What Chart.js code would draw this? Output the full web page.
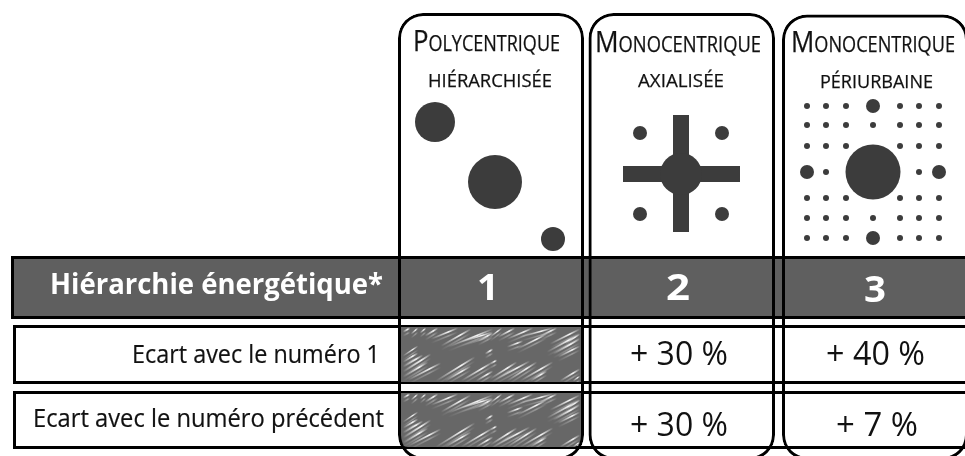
<!DOCTYPE html>
<html lang="fr">
<head>
<meta charset="utf-8">
<title>Hiérarchie énergétique</title>
<script src="https://cdn.jsdelivr.net/npm/chart.js@4"></script>
<style>
    html, body { margin: 0; padding: 0; background: #fff; }
    canvas { display: block; }
</style>
</head>
<body>
<canvas id="chart" width="965" height="456"></canvas>
<script>
// Table content
var columnTitles = ['Polycentrique', 'Monocentrique', 'Monocentrique'];
var columnSubtitles = ['hiérarchisée', 'axialisée', 'périurbaine'];
var rankLabel = 'Hiérarchie énergétique*';
var ranks = ['1', '2', '3'];
var gapFirstLabel = 'Ecart avec le numéro 1';
var gapFirst = [null, '+ 30 %', '+ 40 %'];
var gapPreviousLabel = 'Ecart avec le numéro précédent';
var gapPrevious = [null, '+ 30 %', '+ 7 %'];

// Dots of the three city schemes
var polyDots = [{x: 435, y: 122, r: 20}, {x: 495, y: 182, r: 27}, {x: 553, y: 239, r: 12}];
var axialDots = [{x: 681, y: 174, r: 21}, {x: 640, y: 133, r: 7}, {x: 722, y: 133, r: 7},
    {x: 640, y: 214, r: 7}, {x: 722, y: 214, r: 7}];
var periDots = [{x: 873, y: 172, r: 27.5}, {x: 873, y: 106, r: 7}, {x: 873, y: 238, r: 7},
    {x: 807, y: 172, r: 7}, {x: 939, y: 172, r: 7}];
var periSmallX = [807, 826, 846, 900, 919, 939];
var periSmallY = [106, 125, 146, 198, 218, 238];
var periExtra = [{x: 873, y: 125}, {x: 873, y: 218}, {x: 826, y: 172}, {x: 919, y: 172}];

// Frames and rows
var frameX = [[398, 584], [588.5, 775], [782, 968]];
var frameY = [[13, 460], [13, 460], [14.5, 460]];
var rowY = [[256, 319], [325, 384], [391, 449]];
var rowX = [[11, 972], [13, 972], [13, 972]];
var hatchX = [400, 581];
var hatchY = [[327, 382], [393, 447]];
var crossH = {x: [623, 740], y: [166, 182]};
var crossV = {x: [673, 689], y: [115, 232]};

// Streaks of the hatched cells: x1, y1, x2, y2 from the cell corner
var hatchStreaks = [
    [3, 29, 18, 19], [3, 35, 18, 26], [3, 40, 23, 28], [3, 45, 31, 27], [3, 50, 28, 35], [8, 53, 41, 36],
    [36, 54, 75, 30], [45, 54, 71, 39], [61, 54, 93, 35], [76, 54, 93, 44], [41, 19, 71, 2], [48, 20, 93, 2],
    [25, 9, 38, 1], [31, 12, 58, 1], [3, 5, 10, 1], [11, 7, 18, 1], [20, 6, 26, 1], [61, 15, 93, 5],
    [78, 14, 93, 6], [85, 27, 93, 22], [90, 10, 102, 1], [107, 12, 133, 1], [98, 10, 115, 1], [120, 10, 153, 1],
    [140, 9, 157, 1], [107, 20, 123, 14], [117, 22, 147, 7], [147, 25, 180, 7], [153, 27, 180, 12], [158, 30, 180, 19],
    [90, 52, 117, 35], [93, 54, 130, 34], [107, 54, 137, 35], [120, 54, 153, 35], [130, 54, 147, 44], [90, 37, 97, 33],
    [160, 54, 180, 42], [173, 54, 180, 49], [150, 17, 180, 2], [165, 17, 180, 7]
];

var DOT = '#3c3c3c';
var BAND = '#5f5f5f';
var FONT = '"Open Sans"';

function hBar(xr, yr, fill, order, extra) {
    return Object.assign({
        type: 'bar', indexAxis: 'y', grouped: false, order: order,
        data: [{y: (yr[0] + yr[1]) / 2, x: xr}],
        barThickness: yr[1] - yr[0],
        backgroundColor: fill, borderColor: '#000', borderWidth: 3, borderSkipped: false, inflateAmount: 0
    }, extra || {});
}

function vBar(xr, yr, fill, order, extra) {
    return Object.assign({
        type: 'bar', indexAxis: 'x', grouped: false, order: order,
        data: [{x: (xr[0] + xr[1]) / 2, y: yr}],
        barThickness: xr[1] - xr[0],
        backgroundColor: fill, borderWidth: 0, borderSkipped: false, inflateAmount: 0
    }, extra || {});
}

function bubbles(points) {
    return {type: 'bubble', order: 3, data: points, backgroundColor: DOT, borderWidth: 0};
}

var periSmall = periExtra.slice();
periSmallY.forEach(function(y) {
    periSmallX.forEach(function(x) {
        periSmall.push({x: x, y: y});
    });
});
periSmall = periSmall.map(function(p) {
    return {x: p.x, y: p.y, r: 3};
});

var datasets = [
    bubbles(polyDots), bubbles(axialDots), bubbles(periDots), bubbles(periSmall),
    vBar(crossV.x, crossV.y, DOT, 4),
    hBar(crossH.x, crossH.y, DOT, 4, {borderWidth: 0}),
    hBar(rowX[0], rowY[0], BAND, 9),
    hBar(rowX[1], rowY[1], '#fff', 9),
    hBar(rowX[2], rowY[2], '#fff', 9),
    hBar(hatchX, hatchY[0], '#676767', 8, {borderWidth: 0}),
    hBar(hatchX, hatchY[1], '#676767', 8, {borderWidth: 0, borderRadius: {bottomLeft: 8, bottomRight: 8, topLeft: 0, topRight: 0}})
];
frameX.forEach(function(xr, i) {
    datasets.push(vBar(xr, frameY[i], 'rgba(0,0,0,0)', 2, {borderColor: '#000', borderWidth: 3, borderRadius: 25}));
});

// Text position of each label: left, right, baseline
var titlePos = [[413, 560, 51], [595, 761, 52], [791, 955, 52]];
var subtitlePos = [[428, 552, 87], [638, 724, 87], [820, 933, 88]];
var rankPos = [[477, 499, 300], [666, 690, 300], [864, 886, 302]];
var gapFirstPos = [null, [630, 728, 365], [826, 925, 365]];
var gapPreviousPos = [null, [630, 728, 436], [836, 918, 436]];

// Draws text squeezed to the width it has in the picture, optional thin stroke for weight
function putText(chart, text, pos, font, color, weight) {
    var ctx = chart.ctx;
    var left = chart.scales.x.getPixelForValue(pos[0]);
    var right = chart.scales.x.getPixelForValue(pos[1]);
    var base = chart.scales.y.getPixelForValue(pos[2]);
    ctx.save();
    ctx.font = font;
    ctx.fillStyle = color;
    ctx.strokeStyle = color;
    ctx.lineWidth = weight || 0;
    ctx.textBaseline = 'alphabetic';
    ctx.textAlign = 'left';
    var m = ctx.measureText(text);
    ctx.translate(left, base);
    ctx.scale((right - left) / m.width, 1);
    ctx.fillText(text, 0, 0);
    if (weight) ctx.strokeText(text, 0, 0);
    ctx.restore();
}

function drawStreak(chart, yr, s, shift, alpha) {
    var ctx = chart.ctx;
    var sx = chart.scales.x, sy = chart.scales.y;
    var x1 = sx.getPixelForValue(hatchX[0] + s[0]), y1 = sy.getPixelForValue(yr[0] + s[1] + shift);
    var x2 = sx.getPixelForValue(hatchX[0] + s[2]), y2 = sy.getPixelForValue(yr[0] + s[3] + shift);
    var g = ctx.createLinearGradient(x1, y1, x2, y2);
    g.addColorStop(0, 'rgba(245,245,245,0)');
    g.addColorStop(0.65, 'rgba(245,245,245,' + alpha + ')');
    g.addColorStop(1, 'rgba(245,245,245,0)');
    ctx.strokeStyle = g;
    ctx.lineWidth = 1.5;
    ctx.beginPath();
    ctx.moveTo(x1, y1);
    ctx.lineTo(x2, y2);
    ctx.stroke();
}

var hatchPlugin = {
    id: 'hatch',
    afterDatasetDraw: function(chart, args) {
        // dataset 9 is the last hatch cell painted, frames come after it
        if (args.index !== 9) return;
        var ctx = chart.ctx;
        var sx = chart.scales.x, sy = chart.scales.y;
        hatchY.forEach(function(yr) {
            ctx.save();
            ctx.beginPath();
            ctx.rect(sx.getPixelForValue(hatchX[0]), sy.getPixelForValue(yr[0]), hatchX[1] - hatchX[0], yr[1] - yr[0]);
            ctx.clip();
            hatchStreaks.forEach(function(s) {
                drawStreak(chart, yr, s, 0, 1);
                drawStreak(chart, yr, s, 4, 0.35);
            });
            ctx.restore();
        });
    }
};

var labelsPlugin = {
    id: 'tableText',
    afterDatasetsDraw: function(chart) {
        columnTitles.forEach(function(t, i) {
            putText(chart, t, titlePos[i], 'small-caps 30px ' + FONT, '#111', 0.25);
            putText(chart, columnSubtitles[i], subtitlePos[i], 'small-caps 27px ' + FONT, '#111', 0.25);
            putText(chart, ranks[i], rankPos[i], 'bold 36px ' + FONT, '#fff');
            if (gapFirst[i]) putText(chart, gapFirst[i], gapFirstPos[i], '33px ' + FONT, '#111');
            if (gapPrevious[i]) putText(chart, gapPrevious[i], gapPreviousPos[i], '33px ' + FONT, '#111');
        });
        putText(chart, rankLabel, [50, 383, 294], 'bold 28px ' + FONT, '#fff');
        putText(chart, gapFirstLabel, [132, 380, 363], '26px ' + FONT, '#111', 0.2);
        putText(chart, gapPreviousLabel, [33, 384, 427], '26px ' + FONT, '#111', 0.2);
    }
};

new Chart(document.getElementById('chart').getContext('2d'), {
    type: 'bar',
    data: {datasets: datasets},
    options: {
        responsive: false,
        animation: false,
        events: [],
        layout: {padding: 0, autoPadding: false},
        plugins: {legend: {display: false}, tooltip: {enabled: false}, title: {display: false}},
        scales: {
            x: {type: 'linear', min: 0, max: 965, offset: false, display: false},
            y: {type: 'linear', min: 0, max: 456, reverse: true, offset: false, display: false}
        }
    },
    plugins: [hatchPlugin, labelsPlugin]
});
</script>
</body>
</html>
